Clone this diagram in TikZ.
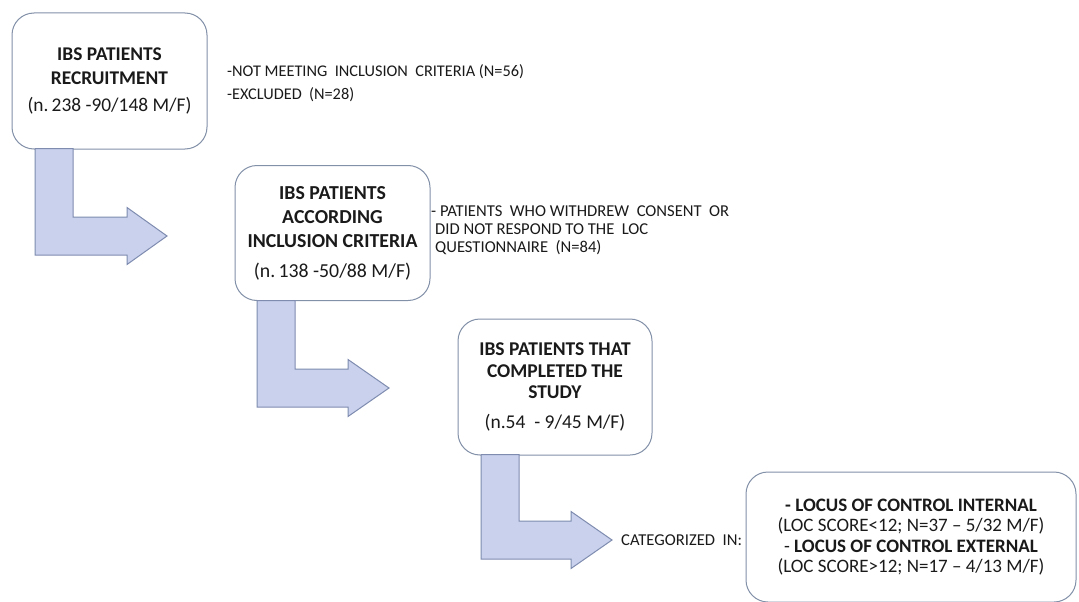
\documentclass[tikz,border=0pt]{standalone}
\usepackage{fontspec}
\setmainfont{Carlito}
\definecolor{boxline}{HTML}{8290A8}
\definecolor{arrfill}{HTML}{C9D1EC}
\definecolor{arrline}{HTML}{7F8CB0}
\definecolor{txt}{HTML}{1A1A1A}
\tikzset{
  stagebox/.style={draw=boxline, line width=1pt, rounded corners=22pt, fill=white, align=center, text=txt, inner sep=0pt},
  sidetext/.style={align=left, anchor=west, text=txt, inner sep=0pt, font=\fontsize{16.6}{18.2}\selectfont},
  bentarrow/.style={draw=arrline, fill=arrfill, line width=1pt, line join=miter}
}
\newcommand\bentarr[5]{% L T B H X
  \draw[bentarrow] (#1,#2) -- ({#1+38},#2) -- ({#1+38},{#3-38}) -- (#4,{#3-38}) -- (#4,{#3-19-28.5}) -- (#5,{#3-19}) -- (#4,{#3-19+28.5}) -- (#4,#3) -- (#1,#3) -- cycle;}
\begin{document}
\begin{tikzpicture}[x=1pt,y=-1pt]
\useasboundingbox[fill=white] (0,0) rectangle (1079,602);
% boxes
\node[stagebox, minimum width=195pt, minimum height=136pt, font=\fontsize{19.4}{24}\selectfont] (b1) at (109.5,81)
  {\textbf{IBS PATIENTS}\\\textbf{RECRUITMENT}\\[3pt](n.\,238 -90/148 M/F)};
\node[stagebox, minimum width=195pt, minimum height=135pt, font=\fontsize{19.8}{24}\selectfont] (b2) at (332.5,233)
  {\textbf{IBS PATIENTS}\\\textbf{ACCORDING}\\\textbf{INCLUSION CRITERIA}\\[6pt](n.\,138 -50/88 M/F)};
\node[stagebox, minimum width=194pt, minimum height=136pt, font=\fontsize{19.5}{21.7}\selectfont] (b3) at (555,387)
  {\textbf{IBS PATIENTS THAT}\\\textbf{COMPLETED THE}\\\textbf{STUDY}\\[8pt](n.54\ \ - 9/45 M/F)};
\node[stagebox, minimum width=330pt, minimum height=130pt, font=\fontsize{19}{20.5}\selectfont] (b4) at (911,537)
  {\textbf{- LOCUS OF CONTROL INTERNAL}\\(LOC SCORE<12; N=37 -- 5/32 M/F)\\- \textbf{LOCUS OF CONTROL EXTERNAL}\\(LOC SCORE>12; N=17 -- 4/13 M/F)};
% side texts
\node[sidetext, font=\fontsize{16.3}{23}\selectfont] (s1) at (227,83.5)
  {-NOT MEETING\ \ INCLUSION\ \ CRITERIA (N=56)\\-EXCLUDED\ \ (N=28)};
\node[sidetext] (s2) at (431,230.5)
  {- PATIENTS\ \ WHO WITHDREW\ \ CONSENT\ \ OR\\\hspace{4pt}DID NOT RESPOND TO THE\ \ LOC\\\hspace{4pt}QUESTIONNAIRE\ \ (N=84)};
\node[sidetext] (s3) at (621,540) {CATEGORIZED\ \ IN:};
% bent block arrows
\bentarr{35}{148.5}{255}{127}{167}
\bentarr{257}{300.5}{407}{348}{389}
\bentarr{481}{454.5}{559}{571}{612}
\end{tikzpicture}
\end{document}
